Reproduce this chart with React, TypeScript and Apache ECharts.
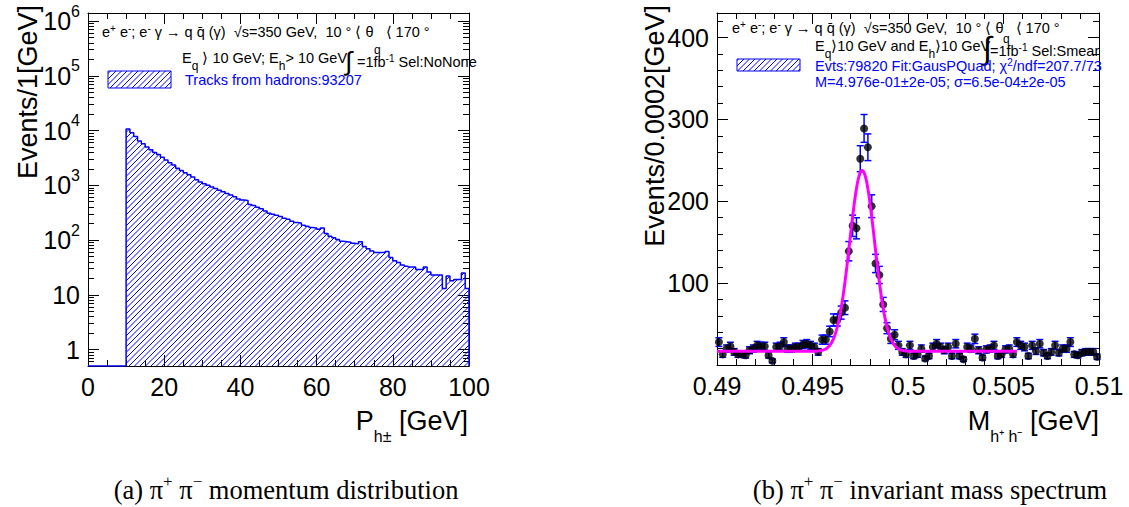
import React, { useEffect, useRef } from "react";
import * as echarts from "echarts";

const FONT = '"Liberation Sans", Arial, Helvetica, sans-serif';
const SERIF = '"Liberation Serif", "Times New Roman", Times, serif';
const BLUE = "#0000ff";

// ---------- Left panel: track momentum (1 GeV bins) ----------
const P_MIN = 0;
const P_MAX = 100;
const P_BIN = 1;
const P_FIRST_FILLED = 10;
const P_Y_MIN = 0.5;
const P_Y_MAX = 1.4e6;
const trackCounts = [
  10700, 9120, 7760, 6460, 5750, 5010, 4470, 3980, 3630, 3240,
  2880, 2570, 2340, 2040, 1860, 1700, 1550, 1410, 1260, 1150,
  1070, 1000, 933, 871, 813, 759, 708, 661, 617, 562,
  537, 525, 447, 427, 398, 372, 339, 309, 295, 282,
  269, 251, 240, 219, 209, 204, 186, 178, 170, 166,
  158, 166, 132, 117, 110, 102, 95, 93, 91, 87,
  85, 93, 76, 69, 63, 59, 59, 59, 62, 48,
  42, 39, 35, 33, 32, 32, 29, 29, 32, 26,
  23, 23, 23, 13, 22, 18, 19, 19, 25, 13,
];

// ---------- Right panel: invariant mass (0.0002 GeV bins) ----------
const M_MIN = 0.49;
const M_MAX = 0.51;
const M_BIN = 0.0002;
const M_Y_MIN = 0;
const M_Y_MAX = 430;
const massCounts = [
  28, 13, 20, 23, 16, 13, 13, 12, 18, 20,
  24, 23, 23, 12, 5, 22, 23, 28, 20, 20,
  22, 22, 25, 26, 24, 22, 16, 31, 31, 41,
  55, 55, 64, 70, 139, 170, 167, 252, 289, 266,
  194, 124, 110, 74, 45, 32, 37, 24, 16, 13,
  24, 11, 13, 20, 8, 11, 22, 26, 22, 18,
  22, 11, 26, 11, 7, 22, 20, 32, 18, 9,
  19, 20, 24, 11, 13, 19, 20, 13, 28, 24,
  22, 11, 24, 17, 26, 15, 11, 16, 24, 15,
  20, 20, 28, 13, 12, 15, 16, 16, 16, 10,
];
// Fit (Gaussian + flat background) parameters
const FIT_MEAN = 0.4976;
const FIT_SIGMA = 0.00065;
const FIT_PEAK = 221;
const FIT_BASE = 16.7;
const FIT_END = 0.5057;

const HEADER_1 = "e{sup|+} e{sup|-}; e{sup|-} γ → q q̄ (γ)  √s=350 GeV,  10 ° ⟨ θ   ⟨ 170 °";

function makeHatch() {
  const s = 11;
  const c = document.createElement("canvas");
  c.width = s;
  c.height = s;
  const ctx = c.getContext("2d")!;
  ctx.strokeStyle = BLUE;
  ctx.lineWidth = 1;
  ctx.beginPath();
  for (const k of [0, 5.5, 11, 16.5, 22]) {
    ctx.moveTo(k + 1, -1);
    ctx.lineTo(-1, k + 1);
  }
  ctx.stroke();
  return { image: c, repeat: "repeat", imageWidth: s, imageHeight: s } as any;
}

function frameAxis(o: any) {
  return {
    axisLine: { show: true, onZero: false, lineStyle: { color: "#000", width: 1 } },
    axisTick: { show: true, inside: true, length: 11, lineStyle: { color: "#000", width: 1 } },
    minorTick: { show: false },
    splitLine: { show: false },
    minorSplitLine: { show: false },
    axisLabel: { show: false },
    ...o,
  };
}

const LABEL = { show: true, color: "#000", fontFamily: FONT, fontSize: 25 };

function logLabel(v: number) {
  const e = Math.round(Math.log10(v));
  if (e === 0) return "1";
  if (e === 1) return "10";
  return "10{sup|" + e + "}";
}

function buildOption() {
  const hatch = makeHatch();

  const histData: number[][] = [[P_MIN, P_Y_MIN]];
  trackCounts.forEach((c, i) => histData.push([P_FIRST_FILLED + i * P_BIN, c]));
  histData.push([P_MAX, P_Y_MIN]);

  const pts = massCounts.map((v, i) => [M_MIN + (i + 0.5) * M_BIN, v, Math.sqrt(v)]);
  const fit: number[][] = [];
  for (let x = M_MIN; x <= FIT_END + 1e-9; x += 0.00005) {
    const g = Math.exp(-0.5 * ((x - FIT_MEAN) / FIT_SIGMA) ** 2);
    fit.push([x, FIT_BASE + FIT_PEAK * g]);
  }

  const t = (x: number, y: number, text: string, o: any = {}) => ({
    type: "text",
    x,
    y,
    z: 100,
    style: {
      text,
      fontFamily: FONT,
      fontSize: 14.5,
      fill: "#000",
      verticalAlign: "middle",
      align: "left",
      ...o,
    },
  });

  const supRich = {
    sup: { fontSize: 10, lineHeight: 18, verticalAlign: "top", fontFamily: FONT },
  };
  const subRich = {
    sub: { fontSize: 12, lineHeight: 28, verticalAlign: "bottom", fontFamily: FONT },
  };

  const graphic: any[] = [
    // ---- left header ----
    t(102, 32, HEADER_1, { rich: supRich }),
    t(374, 50, "q", { fontSize: 12 }),
    t(182, 58, "E{sub|q} ⟩ 10 GeV; E{sub|h}> 10 GeV", { rich: subRich }),
    t(345, 61, "∫", { fontSize: 26 }),
    t(357, 62, "=1fb{sup|-1} Sel:NoNone", { rich: supRich }),
    {
      type: "rect",
      z: 100,
      shape: { x: 108, y: 71, width: 63, height: 17 },
      style: { fill: hatch, stroke: BLUE, lineWidth: 1 },
    },
    t(185, 80, "Tracks from hadrons:93207", { fill: BLUE }),

    // ---- right header ----
    t(732, 28, HEADER_1, { rich: supRich }),
    t(1003, 39, "q", { fontSize: 12 }),
    t(815, 46, "E{sub|q}⟩10 GeV and E{sub|h}⟩10 GeV", { rich: subRich }),
    t(983, 48, "∫", { fontSize: 32 }),
    t(990, 51, "=1fb{sup|-1} Sel:Smear", { rich: supRich }),
    {
      type: "rect",
      z: 100,
      shape: { x: 737, y: 59, width: 63, height: 12 },
      style: { fill: hatch, stroke: BLUE, lineWidth: 1 },
    },
    t(815, 66, "Evts:79820 Fit:GausPQuad; χ{sup|2}/ndf=207.7/73", { fill: BLUE, rich: supRich }),
    t(815, 82, "M=4.976e-01±2e-05; σ=6.5e-04±2e-05", { fill: BLUE }),

    // ---- axis titles ----
    {
      type: "text",
      x: 28,
      y: 5,
      rotation: Math.PI / 2,
      style: { text: "Events/1[GeV]", fontFamily: FONT, fontSize: 27, fill: "#000", align: "right", verticalAlign: "middle" },
    },
    {
      type: "text",
      x: 655,
      y: 5,
      rotation: Math.PI / 2,
      style: { text: "Events/0.0002[GeV]", fontFamily: FONT, fontSize: 27, fill: "#000", align: "right", verticalAlign: "middle" },
    },
    t(468, 421, "P{sub|h±} [GeV]", {
      fontSize: 27,
      align: "right",
      rich: { sub: { fontSize: 16, lineHeight: 46, verticalAlign: "bottom", fontFamily: FONT } },
    }),
    t(1099, 421, "M{sub|h⁺ h⁻} [GeV]", {
      fontSize: 27,
      align: "right",
      rich: { sub: { fontSize: 16, lineHeight: 46, verticalAlign: "bottom", fontFamily: FONT } },
    }),

    // ---- captions ----
    t(286, 490, "(a) π{sup|+} π{sup|−} momentum distribution", {
      fontFamily: SERIF,
      fontSize: 26.5,
      align: "center",
      rich: { sup: { fontSize: 17, lineHeight: 34, verticalAlign: "top", fontFamily: SERIF } },
    }),
    t(930, 490, "(b) π{sup|+} π{sup|−} invariant mass spectrum", {
      fontFamily: SERIF,
      fontSize: 26.5,
      align: "center",
      rich: { sup: { fontSize: 17, lineHeight: 34, verticalAlign: "top", fontFamily: SERIF } },
    }),
  ];

  const logAxisCommon = {
    type: "log",
    logBase: 10,
    min: P_Y_MIN,
    max: P_Y_MAX,
    minorTick: { show: true, splitNumber: 9, length: 6, lineStyle: { color: "#000" } },
  };

  return {
    animation: false,
    backgroundColor: "#fff",
    grid: [
      { left: 88, top: 13, width: 381, height: 353, containLabel: false },
      { left: 717, top: 13, width: 382, height: 352, containLabel: false },
    ],
    xAxis: [
      frameAxis({
        gridIndex: 0, type: "value", min: P_MIN, max: P_MAX, interval: 20, position: "bottom",
        minorTick: { show: true, splitNumber: 4, length: 6, lineStyle: { color: "#000" } },
        axisLabel: { ...LABEL, margin: 8 },
      }),
      frameAxis({
        gridIndex: 0, type: "value", min: P_MIN, max: P_MAX, interval: 20, position: "top",
        minorTick: { show: true, splitNumber: 4, length: 6, lineStyle: { color: "#000" } },
      }),
      frameAxis({
        gridIndex: 1, type: "value", min: M_MIN, max: M_MAX, interval: 0.005, position: "bottom",
        minorTick: { show: true, splitNumber: 5, length: 6, lineStyle: { color: "#000" } },
        axisLabel: { ...LABEL, margin: 8 },
      }),
      frameAxis({
        gridIndex: 1, type: "value", min: M_MIN, max: M_MAX, interval: 0.005, position: "top",
        minorTick: { show: true, splitNumber: 5, length: 6, lineStyle: { color: "#000" } },
      }),
    ],
    yAxis: [
      frameAxis({
        gridIndex: 0, position: "left", ...logAxisCommon,
        axisLabel: {
          ...LABEL, margin: 8, showMinLabel: false, showMaxLabel: false,
          formatter: logLabel,
          rich: { sup: { fontSize: 16, lineHeight: 36, verticalAlign: "top", fontFamily: FONT, color: "#000" } },
        },
      }),
      frameAxis({ gridIndex: 0, position: "right", ...logAxisCommon }),
      frameAxis({
        gridIndex: 1, type: "value", min: M_Y_MIN, max: M_Y_MAX, interval: 100, position: "left",
        axisLabel: { ...LABEL, margin: 8, showMinLabel: false, showMaxLabel: false },
      }),
      frameAxis({
        gridIndex: 1, type: "value", min: M_Y_MIN, max: M_Y_MAX, interval: 20, position: "left",
        axisLine: { show: false }, axisTick: { show: true, inside: true, length: 6, lineStyle: { color: "#000" } },
      }),
      frameAxis({
        gridIndex: 1, type: "value", min: M_Y_MIN, max: M_Y_MAX, interval: 100, position: "right",
      }),
      frameAxis({
        gridIndex: 1, type: "value", min: M_Y_MIN, max: M_Y_MAX, interval: 20, position: "right",
        axisLine: { show: false }, axisTick: { show: true, inside: true, length: 6, lineStyle: { color: "#000" } },
      }),
    ],
    series: [
      {
        name: "Tracks from hadrons",
        type: "line",
        xAxisIndex: 0,
        yAxisIndex: 0,
        step: "end",
        data: histData,
        showSymbol: false,
        symbol: "none",
        lineStyle: { color: BLUE, width: 1.5 },
        areaStyle: { origin: "start", color: hatch, opacity: 1 },
        z: 2,
      },
      {
        name: "errors",
        type: "custom",
        xAxisIndex: 2,
        yAxisIndex: 2,
        data: pts,
        encode: { x: 0, y: 1 },
        z: 3,
        renderItem: (params: any, api: any) => {
          const x = api.value(0);
          const y = api.value(1);
          const e = api.value(2);
          const top = api.coord([x, y + e]);
          const bot = api.coord([x, y - e]);
          const st = { stroke: BLUE, lineWidth: 1.5 };
          return {
            type: "group",
            children: [
              { type: "line", shape: { x1: top[0], y1: top[1], x2: bot[0], y2: bot[1] }, style: st },
              { type: "line", shape: { x1: top[0] - 3.5, y1: top[1], x2: top[0] + 3.5, y2: top[1] }, style: st },
              { type: "line", shape: { x1: bot[0] - 3.5, y1: bot[1], x2: bot[0] + 3.5, y2: bot[1] }, style: st },
            ],
          };
        },
      },
      {
        name: "data",
        type: "scatter",
        xAxisIndex: 2,
        yAxisIndex: 2,
        data: pts.map((p) => [p[0], p[1]]),
        symbol: "circle",
        symbolSize: 8,
        itemStyle: { color: "#000" },
        z: 4,
      },
      {
        name: "fit",
        type: "line",
        xAxisIndex: 2,
        yAxisIndex: 2,
        data: fit,
        showSymbol: false,
        symbol: "none",
        lineStyle: { color: "#ff00ff", width: 3 },
        z: 5,
      },
    ],
    graphic,
  };
}

export default function App() {
  const ref = useRef<HTMLDivElement>(null);
  useEffect(() => {
    const chart = echarts.init(ref.current!, null, { renderer: "svg" });
    chart.setOption(buildOption() as any);
    return () => chart.dispose();
  }, []);
  return (
    <div
      ref={ref}
      style={{ position: "absolute", left: 0, top: 0, width: 1129, height: 507, background: "#fff" }}
    />
  );
}
